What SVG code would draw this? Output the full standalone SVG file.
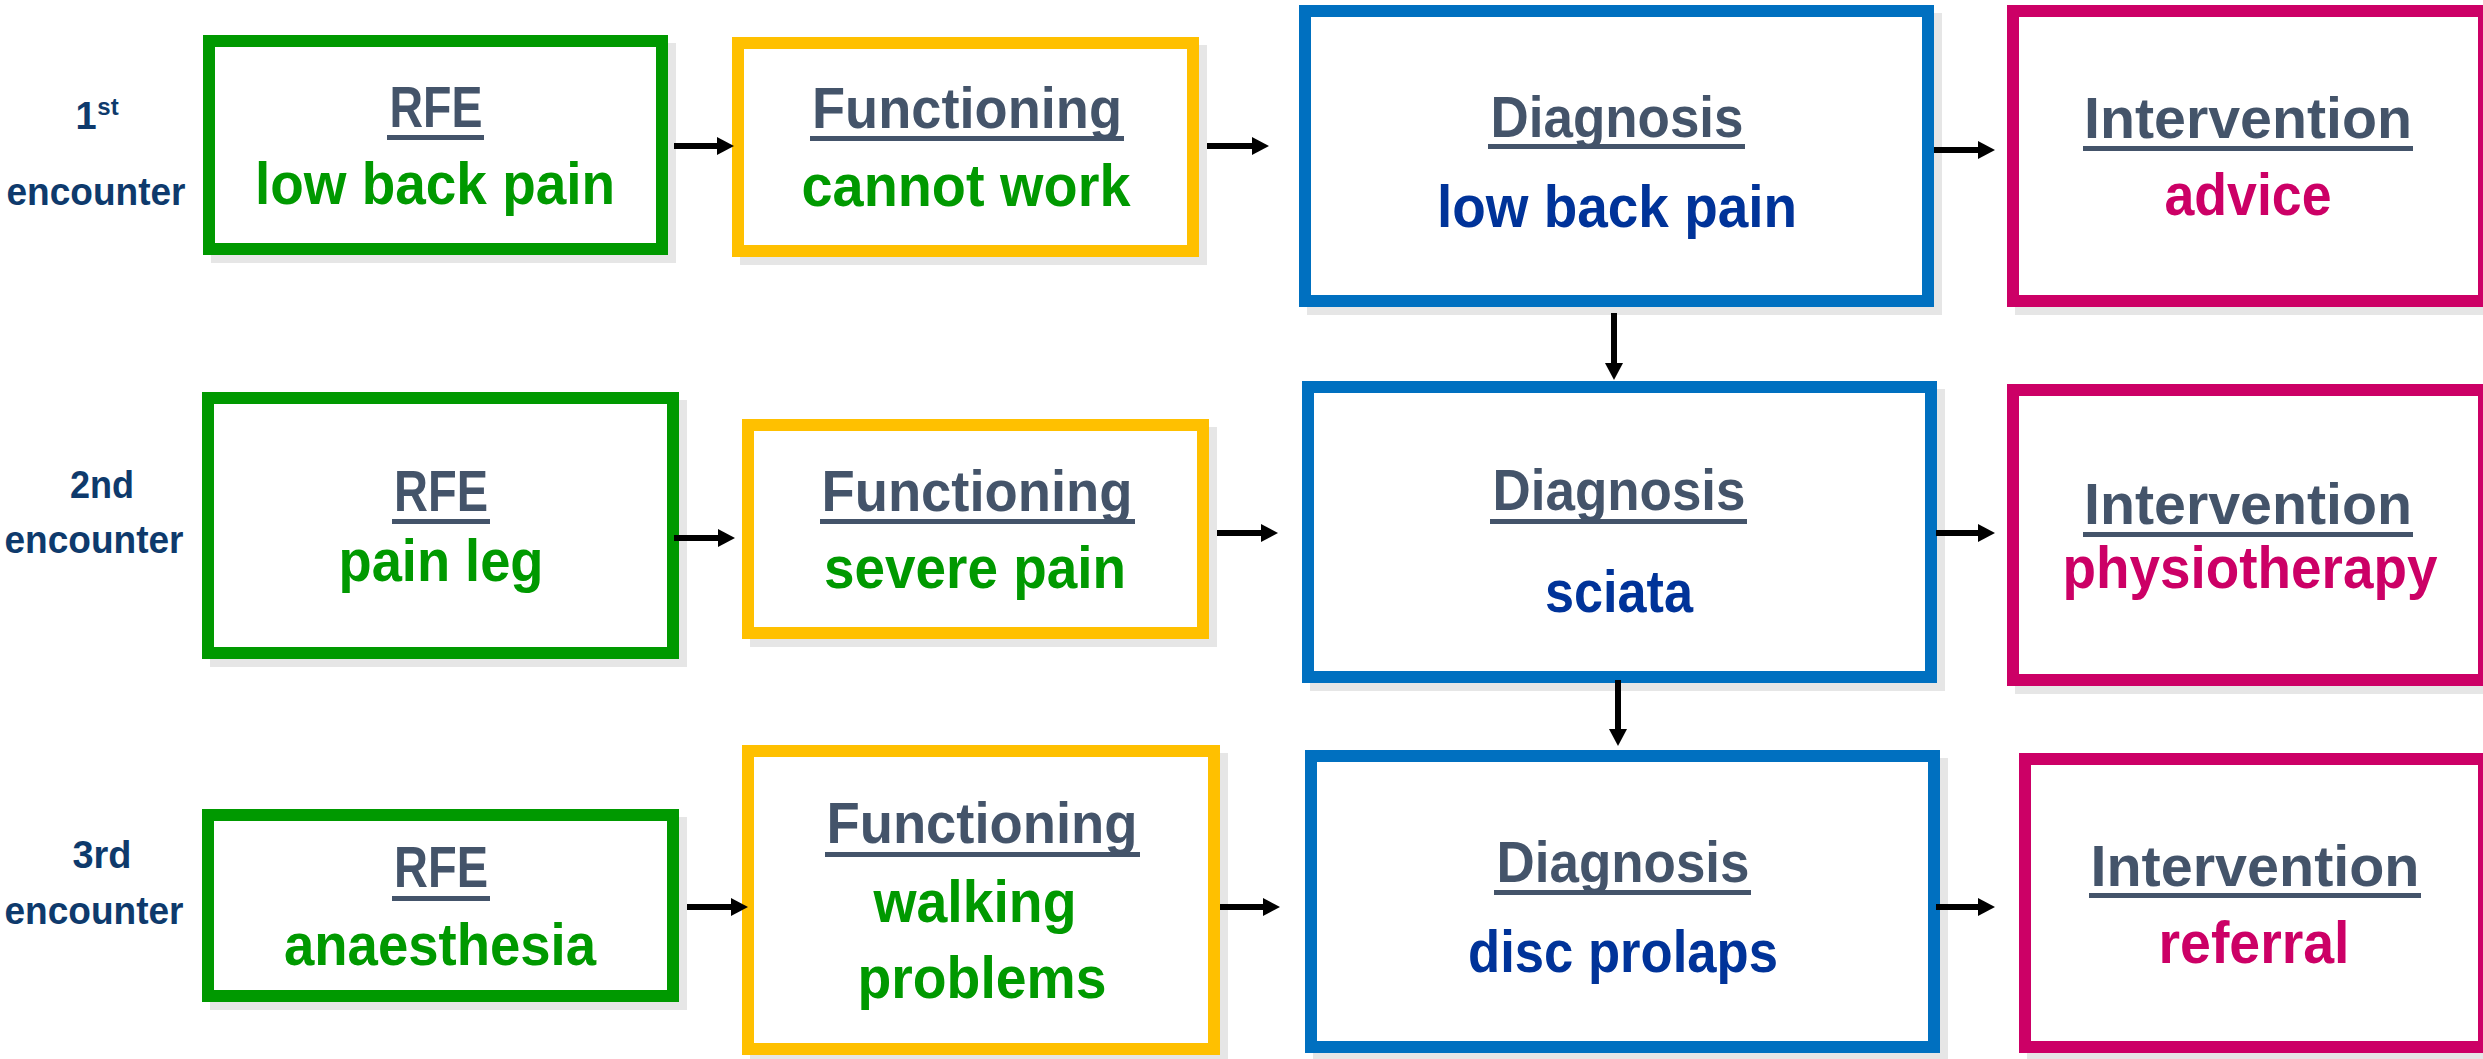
<svg xmlns="http://www.w3.org/2000/svg" width="2483" height="1059" viewBox="0 0 2483 1059">
  <style>
    text { font-family: "Liberation Sans", Arial, sans-serif; font-weight: bold; text-anchor: middle; }
    .shadow { fill: #e6e6e6; }
    .box { fill: #ffffff; stroke-width: 12; }
    .rfe { stroke: #009900; }
    .fun { stroke: #ffc000; }
    .dia { stroke: #0070c0; }
    .int { stroke: #cc0066; }
    .head { fill: #44546a; font-size: 57px; }
    .ul { fill: #44546a; }
    .val { font-size: 59px; }
    .green { fill: #009900; }
    .blue { fill: #003399; }
    .pink { fill: #cc0066; }
    .lbl { fill: #0e3a6c; font-size: 38px; }
    .conn line { stroke: #000000; stroke-width: 6; marker-end: url(#head); }
  </style>
  <defs>
    <marker id="head" markerUnits="userSpaceOnUse" markerWidth="18" markerHeight="18" refX="0" refY="9" orient="auto">
      <path d="M0,0 L17,9 L0,18 Z" fill="#000000"/>
    </marker>
  </defs>
  <rect width="2483" height="1059" fill="#ffffff"/>

  <!-- encounter labels -->
  <g id="label-1">
    <text class="lbl" x="86" y="129">1<tspan x="108" y="115" font-size="24">st</tspan></text>
    <text class="lbl" x="96" y="205" textLength="179" lengthAdjust="spacingAndGlyphs">encounter</text>
  </g>
  <g id="label-2">
    <text class="lbl" x="102" y="498" textLength="64" lengthAdjust="spacingAndGlyphs">2nd</text>
    <text class="lbl" x="94" y="553" textLength="179" lengthAdjust="spacingAndGlyphs">encounter</text>
  </g>
  <g id="label-3">
    <text class="lbl" x="102" y="868" textLength="59" lengthAdjust="spacingAndGlyphs">3rd</text>
    <text class="lbl" x="94" y="924" textLength="179" lengthAdjust="spacingAndGlyphs">encounter</text>
  </g>

  <!-- 1st encounter -->
  <g id="rfe-1">
    <rect class="shadow" x="211" y="43" width="465" height="220"/>
    <rect class="box rfe" x="209" y="41" width="453" height="208"/>
    <text class="head" x="436" y="127" textLength="93" lengthAdjust="spacingAndGlyphs">RFE</text>
    <rect class="ul" x="387" y="135" width="97" height="5"/>
    <text class="val green" x="435" y="204" textLength="360" lengthAdjust="spacingAndGlyphs">low back pain</text>
  </g>
  <g id="functioning-1">
    <rect class="shadow" x="740" y="45" width="467" height="220"/>
    <rect class="box fun" x="738" y="43" width="455" height="208"/>
    <text class="head" x="967" y="128" textLength="310" lengthAdjust="spacingAndGlyphs">Functioning</text>
    <rect class="ul" x="810" y="136" width="314" height="5"/>
    <text class="val green" x="966" y="206" textLength="329" lengthAdjust="spacingAndGlyphs">cannot work</text>
  </g>
  <g id="diagnosis-1">
    <rect class="shadow" x="1307" y="13" width="635" height="302"/>
    <rect class="box dia" x="1305" y="11" width="623" height="290"/>
    <text class="head" x="1617" y="137" textLength="253" lengthAdjust="spacingAndGlyphs">Diagnosis</text>
    <rect class="ul" x="1488" y="144" width="257" height="5"/>
    <text class="val blue" x="1617" y="227" textLength="360" lengthAdjust="spacingAndGlyphs">low back pain</text>
  </g>
  <g id="intervention-1">
    <rect class="shadow" x="2015" y="13" width="481" height="302"/>
    <rect class="box int" x="2013" y="11" width="471" height="290"/>
    <text class="head" x="2248" y="138" textLength="328" lengthAdjust="spacingAndGlyphs">Intervention</text>
    <rect class="ul" x="2083" y="146" width="330" height="5"/>
    <text class="val pink" x="2248" y="215" textLength="167" lengthAdjust="spacingAndGlyphs">advice</text>
  </g>

  <!-- 2nd encounter -->
  <g id="rfe-2">
    <rect class="shadow" x="210" y="400" width="477" height="267"/>
    <rect class="box rfe" x="208" y="398" width="465" height="255"/>
    <text class="head" x="441" y="511" textLength="94" lengthAdjust="spacingAndGlyphs">RFE</text>
    <rect class="ul" x="392" y="519" width="98" height="5"/>
    <text class="val green" x="441" y="581" textLength="205" lengthAdjust="spacingAndGlyphs">pain leg</text>
  </g>
  <g id="functioning-2">
    <rect class="shadow" x="750" y="427" width="467" height="220"/>
    <rect class="box fun" x="748" y="425" width="455" height="208"/>
    <text class="head" x="977" y="511" textLength="311" lengthAdjust="spacingAndGlyphs">Functioning</text>
    <rect class="ul" x="820" y="519" width="315" height="5"/>
    <text class="val green" x="975" y="588" textLength="302" lengthAdjust="spacingAndGlyphs">severe pain</text>
  </g>
  <g id="diagnosis-2">
    <rect class="shadow" x="1310" y="389" width="635" height="302"/>
    <rect class="box dia" x="1308" y="387" width="623" height="290"/>
    <text class="head" x="1619" y="510" textLength="253" lengthAdjust="spacingAndGlyphs">Diagnosis</text>
    <rect class="ul" x="1490" y="519" width="257" height="5"/>
    <text class="val blue" x="1619" y="612" textLength="148" lengthAdjust="spacingAndGlyphs">sciata</text>
  </g>
  <g id="intervention-2">
    <rect class="shadow" x="2015" y="392" width="481" height="302"/>
    <rect class="box int" x="2013" y="390" width="471" height="290"/>
    <text class="head" x="2248" y="524" textLength="328" lengthAdjust="spacingAndGlyphs">Intervention</text>
    <rect class="ul" x="2083" y="532" width="330" height="5"/>
    <text class="val pink" x="2250" y="588" textLength="375" lengthAdjust="spacingAndGlyphs">physiotherapy</text>
  </g>

  <!-- 3rd encounter -->
  <g id="rfe-3">
    <rect class="shadow" x="210" y="817" width="477" height="193"/>
    <rect class="box rfe" x="208" y="815" width="465" height="181"/>
    <text class="head" x="441" y="887" textLength="94" lengthAdjust="spacingAndGlyphs">RFE</text>
    <rect class="ul" x="392" y="896" width="98" height="5"/>
    <text class="val green" x="440" y="965" textLength="312" lengthAdjust="spacingAndGlyphs">anaesthesia</text>
  </g>
  <g id="functioning-3">
    <rect class="shadow" x="750" y="753" width="478" height="310"/>
    <rect class="box fun" x="748" y="751" width="466" height="298"/>
    <text class="head" x="982" y="843" textLength="311" lengthAdjust="spacingAndGlyphs">Functioning</text>
    <rect class="ul" x="825" y="852" width="315" height="5"/>
    <text class="val green" x="975" y="922" textLength="203" lengthAdjust="spacingAndGlyphs">walking</text>
    <text class="val green" x="982" y="998" textLength="249" lengthAdjust="spacingAndGlyphs">problems</text>
  </g>
  <g id="diagnosis-3">
    <rect class="shadow" x="1313" y="758" width="635" height="303"/>
    <rect class="box dia" x="1311" y="756" width="623" height="291"/>
    <text class="head" x="1623" y="882" textLength="253" lengthAdjust="spacingAndGlyphs">Diagnosis</text>
    <rect class="ul" x="1494" y="890" width="257" height="5"/>
    <text class="val blue" x="1623" y="972" textLength="310" lengthAdjust="spacingAndGlyphs">disc prolaps</text>
  </g>
  <g id="intervention-3">
    <rect class="shadow" x="2027" y="761" width="469" height="300"/>
    <rect class="box int" x="2025" y="759" width="459" height="288"/>
    <text class="head" x="2255" y="886" textLength="329" lengthAdjust="spacingAndGlyphs">Intervention</text>
    <rect class="ul" x="2089" y="893" width="332" height="5"/>
    <text class="val pink" x="2254" y="963" textLength="191" lengthAdjust="spacingAndGlyphs">referral</text>
  </g>

  <!-- connectors -->
  <g id="connectors" class="conn">
    <line x1="674" y1="146" x2="717" y2="146"/>
    <line x1="1207" y1="146" x2="1252" y2="146"/>
    <line x1="1934" y1="150" x2="1978" y2="150"/>
    <line x1="674" y1="538" x2="718" y2="538"/>
    <line x1="1217" y1="533" x2="1261" y2="533"/>
    <line x1="1936" y1="533" x2="1978" y2="533"/>
    <line x1="687" y1="907" x2="731" y2="907"/>
    <line x1="1220" y1="907" x2="1263" y2="907"/>
    <line x1="1936" y1="907" x2="1978" y2="907"/>
    <line x1="1614" y1="313" x2="1614" y2="363"/>
    <line x1="1618" y1="680" x2="1618" y2="729"/>
  </g>
</svg>
